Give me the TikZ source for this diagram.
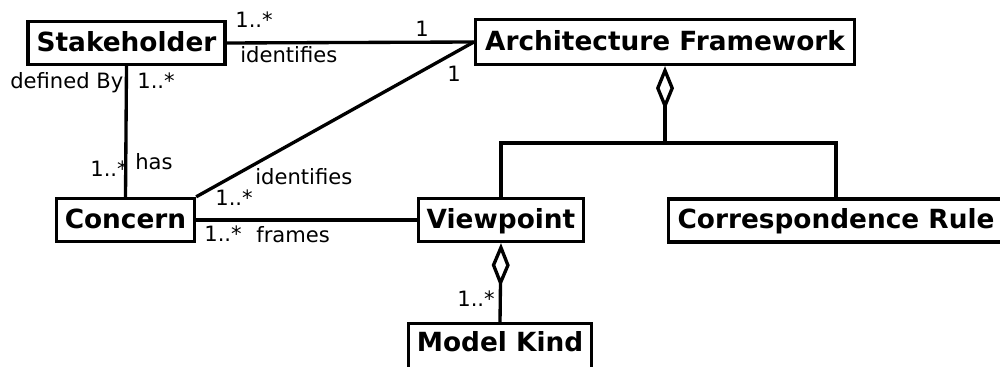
\documentclass[tikz,border=0pt]{standalone}
\usepackage{fontspec}
\setmainfont{DejaVu Sans}
\usetikzlibrary{arrows.meta}
\begin{document}
\begin{tikzpicture}[x=0.02cm,y=-0.02cm,
  cls/.style={draw, line width=1.9pt, font=\bfseries\fontsize{15}{18}\selectfont,
    inner sep=0pt, minimum height=0.86cm, text height=0.40cm, text depth=0.06cm, anchor=center},
  lbl/.style={font=\fontsize{12}{14}\selectfont, inner sep=0pt, anchor=base west},
  conn/.style={line width=1.9pt},
  agg/.style={conn, {Diamond[open,length=0.88cm,width=0.36cm]}-}]
\useasboundingbox (0,0) rectangle (1000,367);
\clip (0,0) rectangle (1000,367);
% classes
\node[cls, minimum width=3.94cm] (sh) at (126.5,43) {Stakeholder};
\node[cls, minimum width=7.58cm, minimum height=0.9cm] (af) at (665,42) {Architecture Framework};
\node[cls, minimum width=2.76cm] (co) at (125.5,220) {Concern};
\node[cls, minimum width=3.3cm] (vp) at (501,220) {Viewpoint};
\node[cls, minimum width=6.7cm] (cr) at (836,220.5) {Correspondence Rule};
\node[cls, minimum width=3.66cm, minimum height=1.02cm, text height=0.18cm, text depth=0.06cm] (mk) at (500,349) {Model Kind};
% connectors
\draw[conn] (sh.east) -- (af.west);
\draw[conn] (co.north east) -- (af.west);
\draw[conn] (sh.south) -- (co.north);
\draw[conn] (co.east) -- (vp.west);
\coordinate (j) at (665,143);
\draw[agg] (af.south) -- (j);
\draw[conn] (vp.north) |- (j) -| (cr.north);
\draw[agg] (vp.south) -- (mk.north);
% labels
\node[lbl] (l1) at (235,28) {1..*};
\node[lbl] (l2) at (240,63) {identifies};
\node[lbl] (l3) at (415,37) {1};
\node[lbl] (l4) at (447,82) {1};
\node[lbl] (l5) at (10,89) {defined By};
\node[lbl] (l6) at (137,89) {1..*};
\node[lbl] (l7) at (90,177) {1..*};
\node[lbl] (l8) at (135,170) {has};
\node[lbl] (l9) at (255,185) {identifies};
\node[lbl] (l10) at (215,206) {1..*};
\node[lbl] (l11) at (204,242) {1..*};
\node[lbl] (l12) at (256,243) {frames};
\node[lbl] (l13) at (457,307) {1..*};
\end{tikzpicture}
\end{document}
